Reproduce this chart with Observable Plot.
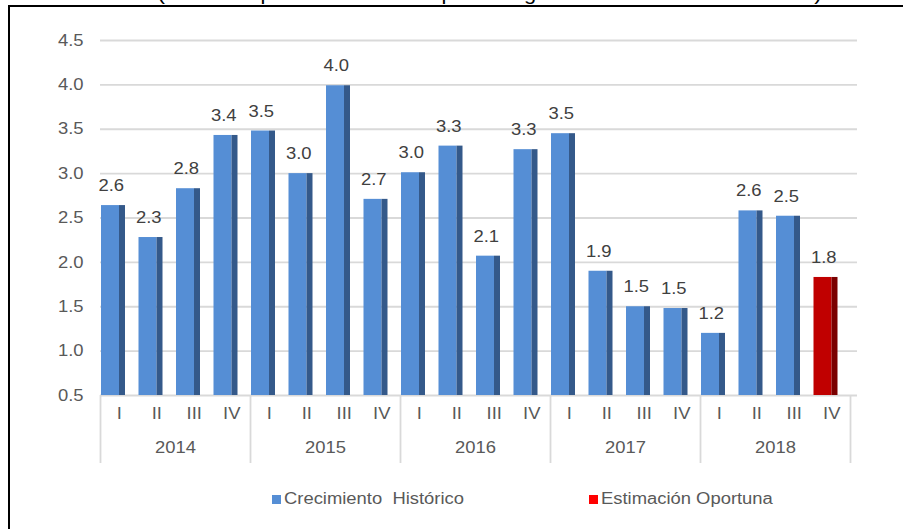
<!DOCTYPE html>
<html><head><meta charset="utf-8">
<script src="https://cdn.jsdelivr.net/npm/d3@7"></script>
<script src="https://cdn.jsdelivr.net/npm/@observablehq/plot@0.6"></script>
<style>
body{margin:0;background:#fff;}
#wrap{position:relative;width:903px;height:529px;overflow:hidden;font-family:"Liberation Sans",Arial,sans-serif;background:#fff;}
#frame{position:absolute;left:8px;top:5px;width:1000px;height:1000px;border-left:2px solid #000;border-top:2px solid #000;pointer-events:none;}
#title{position:absolute;top:-16px;left:0;width:980px;text-align:center;font-size:19px;line-height:19px;color:#000;white-space:nowrap;}
#title span{display:inline-block;transform:scaleX(1.15);transform-origin:center;}
#chart{position:absolute;left:0;top:0;}
#legend{position:absolute;top:489px;left:0;width:903px;height:20px;font-size:16px;color:#595959;}
.item{position:absolute;top:0;height:20px;display:flex;align-items:center;}
.sw{width:9px;height:9px;margin-right:3px;flex:none;}
.lab{display:inline-block;transform:scaleX(1.15);transform-origin:left center;white-space:pre;line-height:20px;}
</style></head>
<body>
<div id="wrap"><div id="chart"></div><div id="title"></div><div id="legend"></div><div id="frame"></div></div>
<script>
const titleText = "(Variación porcentual real respecto a igual trimestre del año anterior)";
const years = ["2014", "2015", "2016", "2017", "2018"];
const quarters = ["I", "II", "III", "IV"];
const values = [2.64, 2.28, 2.83, 3.43, 3.48, 3.00, 3.99, 2.71, 3.01, 3.31, 2.07, 3.27, 3.45, 1.90, 1.50, 1.48, 1.20, 2.58, 2.52, 1.83];
const valueLabels = ["2.6", "2.3", "2.8", "3.4", "3.5", "3.0", "4.0", "2.7", "3.0", "3.3", "2.1", "3.3", "3.5", "1.9", "1.5", "1.5", "1.2", "2.6", "2.5", "1.8"];
const seriesNames = ["Crecimiento  Histórico", "Estimación Oportuna"];
const seriesOf = [0,0,0,0, 0,0,0,0, 0,0,0,0, 0,0,0,0, 0,0,0,1];
const frontColors = ["#558ED5", "#C00000"];
const sideColors = ["#34598A", "#7A0000"];
const legendColors = ["#558ED5", "#FF0000"];
const yTicks = [0.5, 1.0, 1.5, 2.0, 2.5, 3.0, 3.5, 4.0, 4.5];
const yDomain = [0.5, 4.5];

const data = values.map((v, i) => ({
  key: years[Math.floor(i / 4)] + " " + quarters[i % 4],
  year: years[Math.floor(i / 4)],
  q: quarters[i % 4],
  value: v,
  label: valueLabels[i],
  serie: seriesOf[i]
}));
const keys = data.map(d => d.key);
const yearStartKeys = years.map(y => y + " " + quarters[0]);
const yearMidKeys = years.map(y => ({year: y, key: y + " " + quarters[1]}));

const W = 903, H = 529, mL = 100, mR = 53, mT = 40, mB = 134;
const band = (W - mL - mR) / keys.length;

const plot = Plot.plot({
  width: W, height: H,
  marginLeft: mL, marginRight: mR, marginTop: mT, marginBottom: mB,
  style: {fontFamily: '"Liberation Sans", Arial, sans-serif', fontSize: "16px", background: "transparent", overflow: "visible"},
  x: {type: "band", domain: keys, padding: 0, round: false, axis: null},
  y: {domain: yDomain, label: null},
  color: {type: "identity"},
  marks: [
    Plot.ruleY(yTicks, {stroke: "#d9d9d9", strokeWidth: 1.8, insetRight: -7}),
    Plot.axisY(yTicks, {tickSize: 0, tickPadding: 17, tickFormat: d => d.toFixed(1), fill: "#595959", fontSize: 16, label: null}),
    Plot.barY(data, {x: "key", y1: () => yDomain[0], y2: "value", fill: d => frontColors[d.serie], insetLeft: 1, insetRight: band - 19}),
    Plot.barY(data, {x: "key", y1: () => yDomain[0], y2: "value", fill: d => sideColors[d.serie], insetLeft: 19, insetRight: band - 25}),
    Plot.text(data, {x: "key", y: "value", text: "label", dx: -8, dy: -14.5, lineAnchor: "bottom", fill: "#404040", fontSize: 16}),
    Plot.text(data, {x: "key", text: "q", frameAnchor: "bottom", dy: 23, fill: "#595959", fontSize: 16}),
    Plot.text(yearMidKeys, {x: "key", text: "year", frameAnchor: "bottom", dy: 57, dx: band / 2, fill: "#595959", fontSize: 16}),
    Plot.ruleX(yearStartKeys, {dx: -band / 2, stroke: "#d9d9d9", strokeWidth: 1.8, insetTop: 355, insetBottom: -68}),
    Plot.ruleX([keys[keys.length - 1]], {dx: band / 2, stroke: "#d9d9d9", strokeWidth: 1.8, insetTop: 355, insetBottom: -68})
  ]
});
document.getElementById("chart").appendChild(plot);
plot.querySelectorAll("text").forEach(t => {
  const L = t.getComputedTextLength();
  if (L > 0) { t.setAttribute("textLength", L * 1.15); t.setAttribute("lengthAdjust", "spacingAndGlyphs"); }
});

const title = document.getElementById("title");
const ts = document.createElement("span"); ts.textContent = titleText; title.appendChild(ts);

const legend = document.getElementById("legend");
const legendX = [272, 589];
seriesNames.forEach((name, i) => {
  const it = document.createElement("div"); it.className = "item"; it.style.left = legendX[i] + "px";
  const sw = document.createElement("div"); sw.className = "sw"; sw.style.background = legendColors[i];
  const lab = document.createElement("span"); lab.className = "lab"; lab.textContent = name;
  it.appendChild(sw); it.appendChild(lab); legend.appendChild(it);
});
</script>
</body></html>
